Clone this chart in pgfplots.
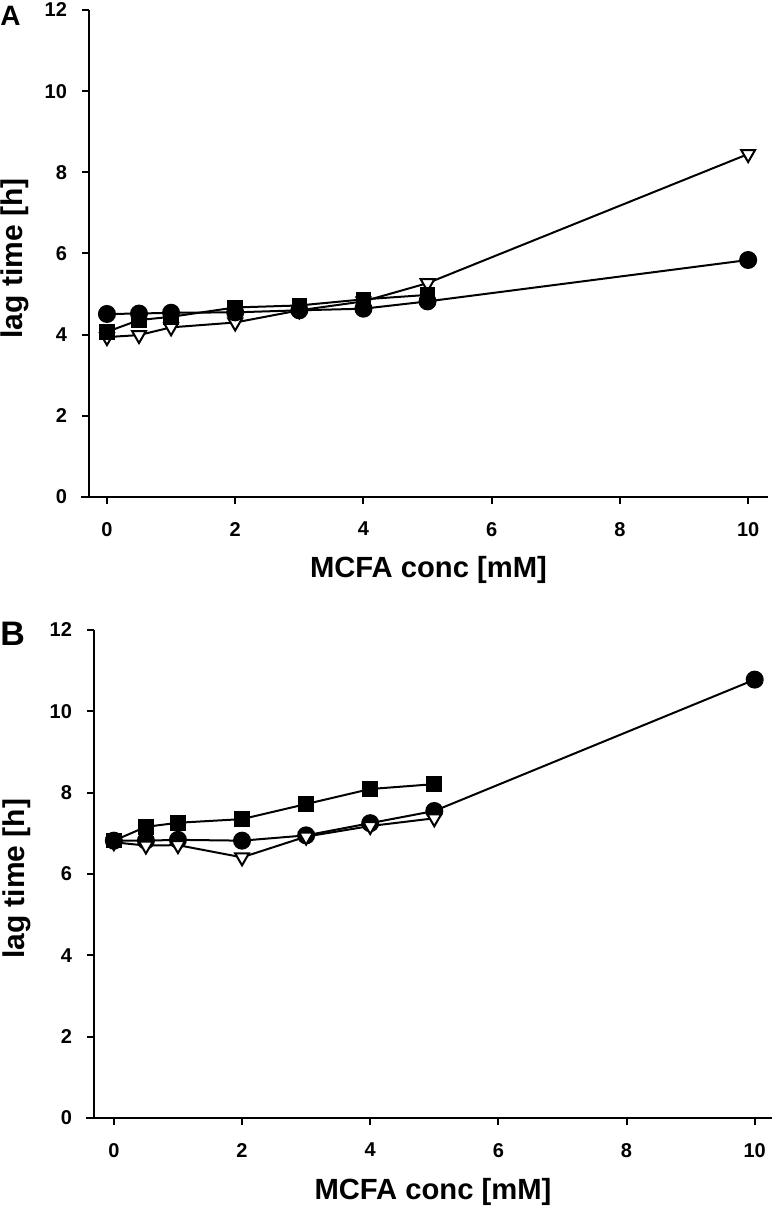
\documentclass[border=0pt]{standalone}
\usepackage{pgfplots}
\pgfplotsset{compat=1.18}
\usepackage{fontspec}
\setmainfont{Liberation Sans}

% lag time vs MCFA concentration, two panels
\pgfplotsset{
  lagpanel/.style={
    scale only axis,
    axis lines=left,
    anchor=south west,
    xmin=-0.3, xmax=10.3,
    ymin=0, ymax=12,
    xtick={0,2,4,6,8,10},
    ytick={0,2,4,6,8,10,12},
    tick align=outside,
    major tick length=3.5pt,
    every tick/.style={black, line width=1pt},
    axis line style={line width=1.2pt, -},
    x axis line style={shorten <=-4pt},
    tick label style={font=\fontsize{10}{12}\selectfont\bfseries},
    xticklabel style={yshift=-5.5pt},
    yticklabel style={xshift=-4pt},
    /pgf/number format/assume math mode=true,
    xlabel style={font=\fontsize{14.6}{16}\selectfont\bfseries},
    ylabel style={font=\fontsize{15}{17}\selectfont\bfseries},
    xlabel={MCFA conc [mM]},
    ylabel={lag time [h]},
    clip=false,
  },
  circ/.style={black, line width=1pt, mark=*, mark size=4pt},
  sqr/.style={black, line width=1pt, mark=square*, mark size=3.4pt},
  tri/.style={black, line width=1pt, mark=triangle*, mark size=4pt,
              mark options={rotate=180, fill=white, line width=1pt}},
}

\begin{document}
\begin{tikzpicture}
\useasboundingbox (0,0) rectangle (388pt,-604pt);

% panel A
\begin{axis}[lagpanel,
    at={(44.5pt,-248.5pt)}, width=339.5pt, height=243.5pt,
    xmin=-0.28, xmax=10.31,
    ylabel style={at={(axis description cs:-0.11,0.49)}, anchor=center},
    xlabel style={at={(axis description cs:0.5,-0.166)}, anchor=base}]
  \addplot[tri] coordinates {(0,3.94) (0.5,3.99) (1,4.18) (2,4.30) (3,4.60) (4,4.82) (5,5.27) (10,8.45)};
  \addplot[circ] coordinates {(0,4.51) (0.5,4.52) (1,4.54) (2,4.55) (3,4.60) (4,4.64) (5,4.82) (10,5.84)};
  \addplot[sqr] coordinates {(0,4.07) (0.5,4.36) (1,4.44) (2,4.67) (3,4.72) (4,4.87) (5,4.98)};
\end{axis}
\node[anchor=north west, inner sep=0pt, font=\fontsize{14}{16}\selectfont\bfseries] at (0pt,-3pt) {A};

% panel B
\begin{axis}[lagpanel,
    at={(47pt,-559pt)}, width=339pt, height=244pt,
    xmin=-0.31, xmax=10.27,
    ylabel style={at={(axis description cs:-0.114,0.49)}, anchor=center},
    xlabel style={at={(axis description cs:0.5,-0.166)}, anchor=base}]
  \addplot[circ] coordinates {(0,6.82) (0.5,6.82) (1,6.84) (2,6.82) (3,6.95) (4,7.25) (5,7.55) (10,10.78)};
  \addplot[tri] coordinates {(0,6.78) (0.5,6.70) (1,6.71) (2,6.41) (3,6.92) (4,7.18) (5,7.37)};
  \addplot[sqr] coordinates {(0,6.82) (0.5,7.16) (1,7.26) (2,7.35) (3,7.72) (4,8.09) (5,8.21)};
\end{axis}
\node[anchor=north west, inner sep=0pt, font=\fontsize{17}{19}\selectfont\bfseries] at (0pt,-311pt) {B};
\end{tikzpicture}
\end{document}
